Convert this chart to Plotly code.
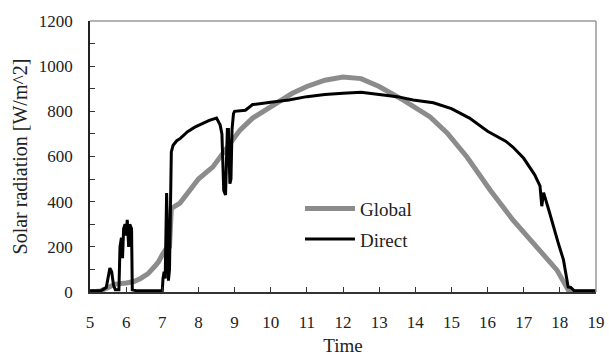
import plotly.graph_objects as go

# Global radiation (gray)
global_t = [5.0, 5.3, 5.5, 5.7, 6.0, 6.2, 6.4, 6.6, 6.8, 6.9, 7.0, 7.1, 7.2, 7.25, 7.49, 7.8, 8.0,
            8.4, 8.8, 9.15, 9.5, 10.0, 10.26, 10.6, 11.0, 11.5, 12.0, 12.5, 13.0, 13.67, 14.41,
            14.88, 15.43, 16.07, 16.7, 17.26, 17.92, 18.23, 18.3, 19.0]
global_v = [0, 5, 20, 35, 40, 45, 60, 80, 115, 135, 165, 190, 200, 370, 394, 460, 500,
            554, 640, 717, 770, 820, 850, 880, 910, 938, 952, 945, 910, 850, 775,
            704, 598, 452, 319, 217, 97, 9, 0, 0]

# Direct radiation (black)
direct_t = [5.0, 5.3, 5.45, 5.5, 5.55, 5.6, 5.65, 5.7, 5.8, 5.83, 5.87, 5.9, 5.93, 5.97, 6.0, 6.03,
            6.07, 6.1, 6.15, 6.17, 6.3, 6.5, 6.8, 7.0, 7.02, 7.05, 7.08, 7.1, 7.12, 7.14, 7.17,
            7.2, 7.25, 7.3, 7.4, 7.5, 7.7, 7.9, 8.1, 8.3, 8.5, 8.6, 8.65, 8.7, 8.75, 8.8, 8.83,
            8.87, 8.9, 8.93, 8.97, 9.0, 9.3, 9.5, 10.0, 10.5, 11.0, 11.5, 12.0, 12.5, 13.0, 13.5,
            13.94, 14.5, 15.0, 15.5, 16.0, 16.5, 16.7, 17.0, 17.3, 17.45, 17.5, 17.55,
            17.7, 17.82, 17.95, 18.1, 18.2, 18.23, 18.3, 18.4, 18.6, 19.0]
direct_v = [5, 5, 20, 60, 106, 90, 30, 10, 10, 200, 240, 150, 280, 300, 250, 320,
            200, 300, 280, 10, 5, 5, 5, 5, 60, 90, 60, 200, 438, 300, 50,
            100, 620, 650, 670, 680, 710, 730, 745, 760, 770, 740, 700, 450, 430, 720, 720,
            480, 500, 720, 790, 800, 805, 830, 840, 850, 865, 875, 880, 885, 875, 865,
            850, 838, 812, 770, 712, 668, 642, 592, 520, 470, 380, 440,
            360, 288, 220, 142, 60, 22, 20, 5, 5, 5]

x_ticks = list(range(5, 20))
y_ticks = [0, 200, 400, 600, 800, 1000, 1200]
y_minor = [100, 300, 500, 700, 900, 1100]

font = "Liberation Serif"

fig = go.Figure()
fig.add_trace(go.Scatter(x=global_t, y=global_v, mode="lines", name="Global",
                         legendgroup="g", line=dict(color="#8c8c8c", width=5)))
fig.add_trace(go.Scatter(x=direct_t, y=direct_v, mode="lines", name="Direct",
                         legendgroup="d", line=dict(color="#000000", width=3)))

fig.update_layout(
    width=609, height=356,
    margin=dict(l=90, r=13, t=21, b=64),
    paper_bgcolor="white", plot_bgcolor="white",
    font=dict(family=font, size=17, color="#222"),
    showlegend=True,
    legend=dict(x=0.415, y=0.378, xanchor="left", yanchor="top",
                font=dict(family=font, size=19, color="#222"), itemwidth=50,
                bgcolor="rgba(0,0,0,0)", traceorder="grouped", tracegroupgap=3),
    xaxis=dict(range=[5, 19], tickvals=x_ticks, ticktext=[str(v) for v in x_ticks],
               ticks="inside", ticklen=5, tickcolor="#333", showgrid=False, zeroline=False,
               showline=True, linecolor="#333", linewidth=1.5, ticklabelstandoff=14,
               automargin=False,
               title=dict(text="Time", font=dict(family=font, size=19), standoff=9),
               tickfont=dict(family=font, size=17)),
    yaxis=dict(range=[0, 1200], tickvals=y_ticks, ticktext=[str(v) for v in y_ticks],
               ticks="inside", ticklen=5, tickcolor="#333", showgrid=False, zeroline=False,
               showline=True, linecolor="#222", linewidth=1.5, ticklabelstandoff=12,
               automargin=False,
               minor=dict(tickvals=y_minor, ticks="inside", ticklen=5, tickcolor="#333"),
               title=dict(text="Solar radiation [W/m^2]", font=dict(family=font, size=20), standoff=6),
               tickfont=dict(family=font, size=17)),
)
# top and right frame lines (gray)
fig.add_shape(type="line", xref="paper", yref="paper", x0=0, x1=1, y0=1, y1=1,
              line=dict(color="#999999", width=1.5))
fig.add_shape(type="line", xref="paper", yref="paper", x0=1, x1=1, y0=0, y1=1,
              line=dict(color="#999999", width=1.5))

fig.write_html("out.html")
